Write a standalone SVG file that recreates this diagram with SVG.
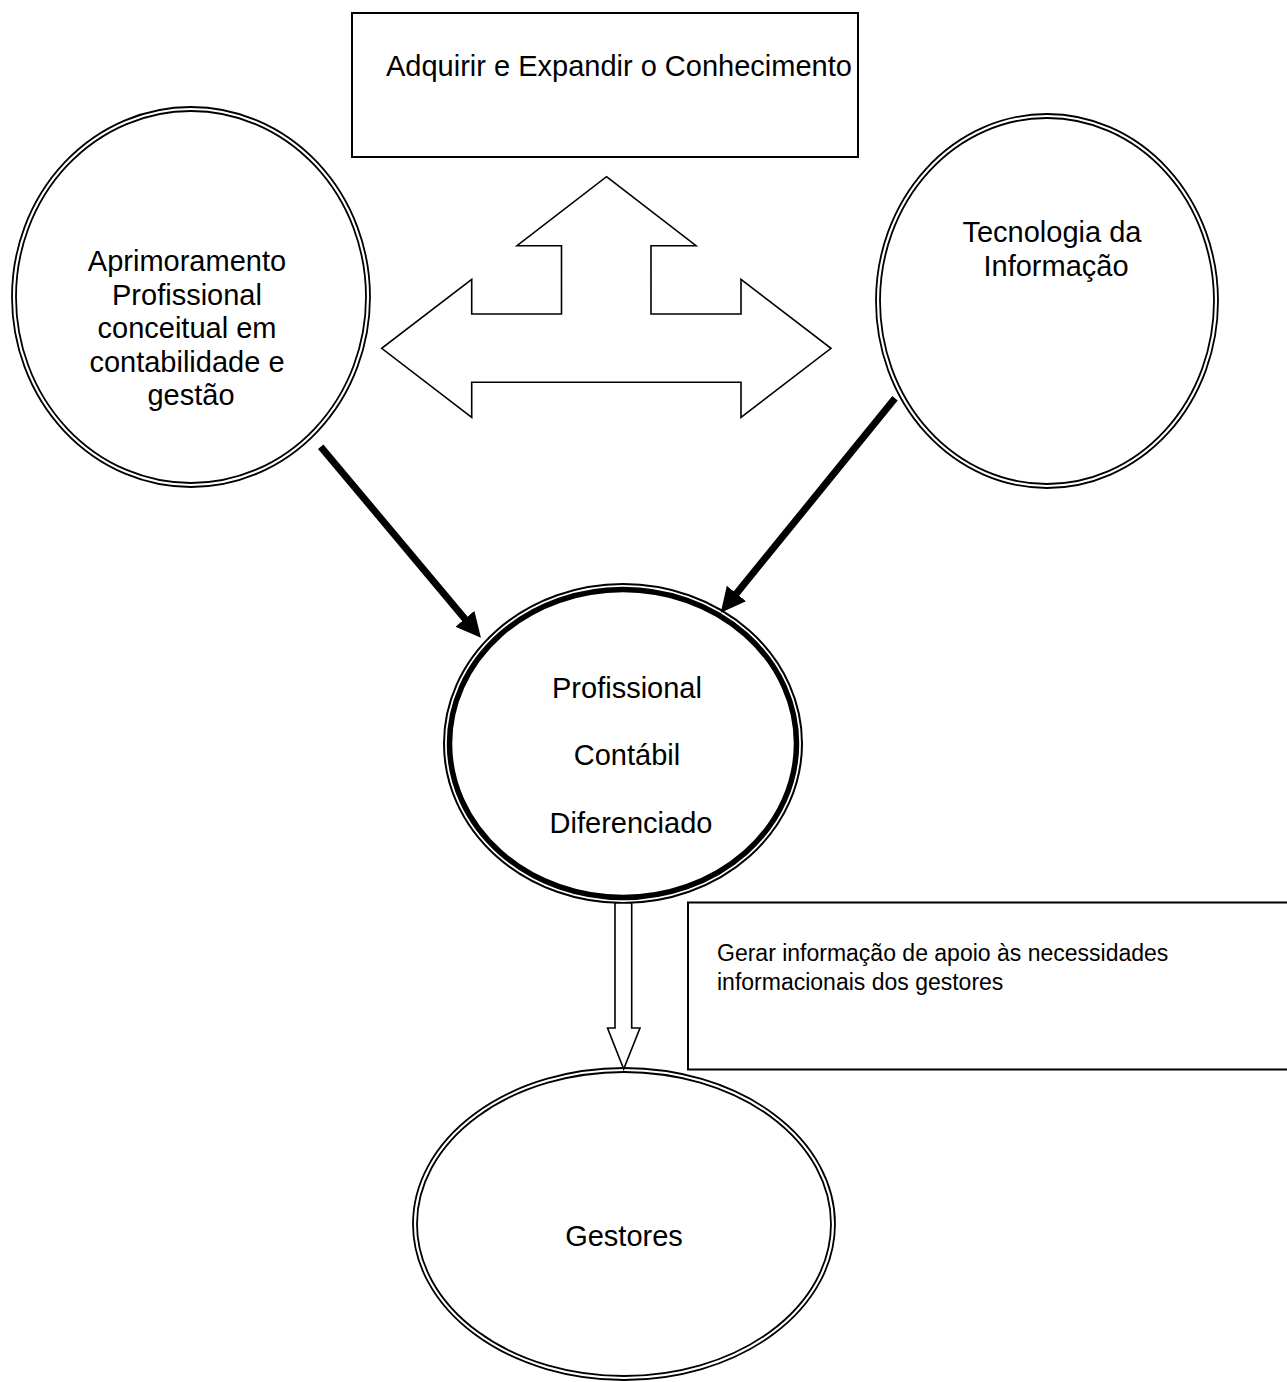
<svg xmlns="http://www.w3.org/2000/svg" width="1287" height="1382" viewBox="0 0 1287 1382">
<style>
  .thin { fill: none; stroke: #000; stroke-width: 1.8; }
  .box { fill: #fff; stroke: #000; stroke-width: 2; }
  .txt { font-family: "Liberation Sans", Arial, sans-serif; font-size: 29px; fill: #000; }
  .small { font-family: "Liberation Sans", Arial, sans-serif; font-size: 23px; fill: #000; }
  .hollow { fill: #fff; stroke: #000; stroke-width: 1.6; stroke-linejoin: miter; }
  .thick { stroke: #000; stroke-width: 7; fill: none; }
</style>
<defs>
  <marker id="head" markerUnits="userSpaceOnUse" markerWidth="26" markerHeight="26" viewBox="0 0 24 24" refX="5" refY="12" orient="auto">
    <path d="M0,0.6 L23,12 L0,23.4 Z" fill="#000"/>
  </marker>
</defs>
<rect width="1287" height="1382" fill="#fff"/>

<g id="node-conhecimento">
  <rect class="box" x="352" y="13" width="506" height="144"/>
  <text class="txt" x="386" y="76">Adquirir e Expandir o Conhecimento</text>
</g>

<g id="node-aprimoramento">
  <ellipse class="thin" cx="191" cy="297" rx="179" ry="190"/>
  <ellipse class="thin" cx="191" cy="297" rx="175" ry="186"/>
  <text class="txt" text-anchor="middle">
    <tspan x="191" y="271">Aprimoramento</tspan>
    <tspan x="191" y="305">Profissional</tspan>
    <tspan x="191" y="338">conceitual em</tspan>
    <tspan x="191" y="372">contabilidade e</tspan>
    <tspan x="191" y="405">gestão</tspan>
  </text>
</g>

<g id="node-tecnologia">
  <ellipse class="thin" cx="1047" cy="301" rx="171" ry="187"/>
  <ellipse class="thin" cx="1047" cy="301" rx="167" ry="183"/>
  <text class="txt" text-anchor="middle">
    <tspan x="1056" y="242">Tecnologia da</tspan>
    <tspan x="1056" y="276">Informação</tspan>
  </text>
</g>

<g id="node-profissional">
  <ellipse fill="none" stroke="#000" stroke-width="2" cx="623" cy="743.5" rx="179" ry="159.5"/>
  <ellipse fill="none" stroke="#000" stroke-width="5.5" cx="623" cy="743.5" rx="173.5" ry="154"/>
  <text class="txt" text-anchor="middle">
    <tspan x="631" y="698">Profissional</tspan>
    <tspan x="631" y="765">Contábil</tspan>
    <tspan x="631" y="833">Diferenciado</tspan>
  </text>
</g>

<g id="node-gerar">
  <rect class="box" x="688" y="902.5" width="620" height="167"/>
  <text class="small">
    <tspan x="717" y="961">Gerar informação de apoio às necessidades</tspan>
    <tspan x="717" y="990">informacionais dos gestores</tspan>
  </text>
</g>

<g id="node-gestores">
  <ellipse class="thin" cx="624" cy="1224" rx="211" ry="156"/>
  <ellipse class="thin" cx="624" cy="1224" rx="207" ry="152"/>
  <text class="txt" x="624" y="1246" text-anchor="middle">Gestores</text>
</g>

<g id="connectors">
  <polygon class="hollow" points="606.5,176.7 696,245.7 651,245.7 651,314 741,314 741,279.3 831,348.3 741,417.3 741,382.3 471.7,382.3 471.7,417.3 381.7,348.3 471.7,279.3 471.7,314 561.5,314 561.5,245.7 517,245.7"/>
  <line class="thick" x1="320.7" y1="446.7" x2="468.4" y2="622.9" marker-end="url(#head)"/>
  <line class="thick" x1="895" y1="398.3" x2="733" y2="597.7" marker-end="url(#head)"/>
  <polygon class="hollow" points="615,903 631.7,903 631.7,1028 640,1028 623.7,1069 607.5,1028 615,1028"/>
</g>
</svg>
